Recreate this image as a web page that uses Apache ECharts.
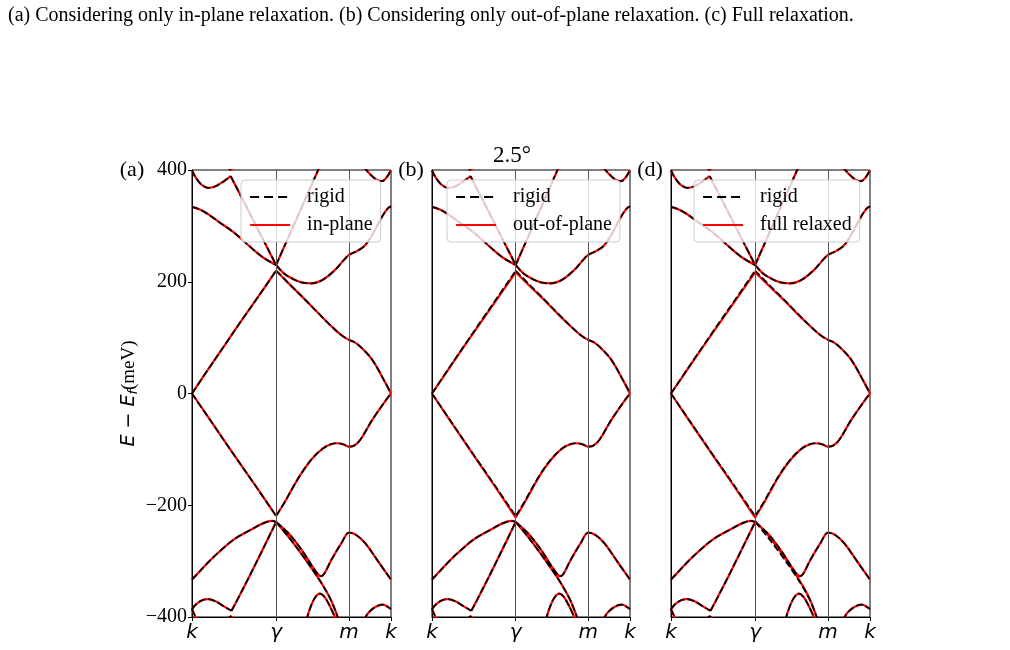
<!DOCTYPE html>
<html>
<head>
<meta charset="utf-8">
<script src="https://cdn.jsdelivr.net/npm/echarts@6/dist/echarts.min.js"></script>
<style>
  html, body { margin: 0; padding: 0; background: #fff; }
  #main { width: 1010px; height: 650px; }
</style>
</head>
<body>
<div id="main"></div>
<script>
// path k -> gamma -> m -> k, in units of |k gamma|
var kPath = [0, 1, 1.866, 2.366];
var kLabels = ['k', 'γ', 'm', 'k'];
var innerPoints = [1, 1.866];
var yTicks = [-400, -200, 0, 200, 400];
var twistAngle = '2.5°';
var panelTags = ['(a)', '(b)', '(d)'];
var relaxNames = ['in-plane', 'out-of-plane', 'full relaxed'];

//////////////// rigid bands (meV) ////////////////
var c1L = [[0,0],[0.2,45],[0.4,89],[0.6,133],[0.8,176],[1,220]];
var c1R = [[1,220],[1.17,194],[1.344,168],[1.5,144],[1.66,120],[1.78,104],[1.866,96],[1.93,92],[2.0,84],[2.14,61],[2.3,19],[2.366,0]];
var c2L = [[0,334],[0.1,329],[0.2,320],[0.31,308],[0.5,288],[0.71,260],[0.85,243],[1,230]];
var c2R = [[1,230],[1.1,214],[1.2,205],[1.3,199],[1.42,197],[1.55,203],[1.7,221],[1.8,238],[1.866,248],[1.95,254],[2.05,264],[2.15,286],[2.25,314],[2.32,330],[2.366,335]];
var c3Lk = [[0,400],[0.03,390],[0.07,381],[0.12,373],[0.19,368],[0.28,371],[0.38,380],[0.46,389]];
var c3Ls = [[0.46,389],[0.61,345],[0.8,289],[1,230]];
var c3R = [[1,230],[1.25,315],[1.5,400],[1.53,410]];
var cBump = [[0.41,410],[0.46,400],[0.51,410]];
var cKr = [[2.04,406],[2.12,392],[2.2,382],[2.26,380],[2.32,388],[2.366,400]];

var v1L = [[0,0],[0.25,-55],[0.5,-110],[0.75,-164],[1,-219]];
var v1R = [[1,-219],[1.1,-195],[1.2,-168],[1.3,-143],[1.42,-118],[1.55,-99],[1.65,-91],[1.72,-89],[1.8,-91],[1.866,-95],[1.93,-93],[2.0,-83],[2.14,-48],[2.3,-13],[2.366,0]];
var v2L = [[0,-333],[0.1,-317],[0.2,-301],[0.31,-285],[0.5,-261],[0.71,-243],[0.85,-232],[0.95,-228],[1,-230]];
var v2R = [[1,-230],[1.14,-249],[1.26,-271],[1.34,-288],[1.42,-307],[1.49,-322],[1.53,-327],[1.57,-323],[1.66,-297],[1.78,-267],[1.866,-249],[1.95,-253],[2.06,-268],[2.22,-302],[2.366,-333]];
var v3R = [[1,-230],[1.15,-257],[1.3,-287],[1.45,-319],[1.55,-342],[1.65,-369],[1.733,-400],[1.75,-406]];
var vDome = [[1.36,-406],[1.4,-386],[1.46,-366],[1.52,-358],[1.58,-365],[1.65,-384],[1.71,-404]];
var v5Lk = [[0,-386],[0.05,-377],[0.12,-370],[0.19,-368],[0.28,-372],[0.38,-381],[0.47,-389]];
var v5Ls = [[0.47,-389],[0.7,-322],[1,-230]];
var vK0 = [[0,-386],[0.06,-406]];
var vBump = [[0.42,-406],[0.46,-399],[0.5,-406]];
var vKr = [[2.04,-406],[2.1,-392],[2.18,-382],[2.27,-378],[2.33,-382],[2.366,-386]];

//////////////// relaxed bands that move a little ////////////////
var oopC1L = [[0,0],[0.2,44],[0.4,88],[0.6,131],[0.8,174],[1,217]];
var oopC1R = [[1,217],[1.17,192],[1.344,167],[1.5,143],[1.66,120],[1.78,104],[1.866,96],[1.93,92],[2.0,84],[2.14,61],[2.3,19],[2.366,0]];
var oopV1L = [[0,0],[0.25,-56],[0.5,-111],[0.75,-166],[1,-222]];
var oopV1R = [[1,-222],[1.1,-197],[1.2,-170],[1.3,-144],[1.42,-119],[1.55,-99],[1.65,-91],[1.72,-89],[1.8,-91],[1.866,-95],[1.93,-93],[2.0,-83],[2.14,-48],[2.3,-13],[2.366,0]];
var fullV3R = [[1,-228],[1.15,-253],[1.3,-283],[1.45,-316],[1.55,-340],[1.65,-368],[1.733,-400],[1.75,-406]];

var rigidBands = [c1L,c1R,c2L,c2R,c3Lk,c3Ls,c3R,cBump,cKr,v1L,v1R,v2L,v2R,v3R,vDome,v5Lk,v5Ls,vK0,vBump,vKr];
var inPlaneBands = rigidBands;
var outPlaneBands = [oopC1L,oopC1R,c2L,c2R,c3Lk,c3Ls,c3R,cBump,cKr,oopV1L,oopV1R,v2L,v2R,v3R,vDome,v5Lk,v5Ls,vK0,vBump,vKr];
var fullBands = [oopC1L,oopC1R,c2L,c2R,c3Lk,c3Ls,c3R,cBump,cKr,oopV1L,oopV1R,v2L,v2R,fullV3R,vDome,v5Lk,v5Ls,vK0,vBump,vKr];
var relaxedBands = [inPlaneBands, outPlaneBands, fullBands];

// join band segments into one line broken by gaps
function joinBands(bands){
    var out = [];
    for (var i = 0; i < bands.length; i++) {
        if (i > 0) out.push(['-', '-']);
        for (var j = 0; j < bands[i].length; j++) out.push(bands[i][j]);
    }
    return out;
}

var chart = echarts.init(document.getElementById('main'));
var serif = 'Liberation Serif';
var grids = [
    {left: 192, top: 170, width: 199, height: 447},
    {left: 432, top: 170, width: 198, height: 447},
    {left: 671, top: 170, width: 199, height: 447}
];
var legendLeft = [241, 447, 694];

var xAxes = [], yAxes = [], series = [], legends = [];
for (var p = 0; p < 3; p++) {
    grids[p].show = true;
    grids[p].borderColor = '#000';
    grids[p].borderWidth = 1;
    xAxes.push({
        type: 'value', gridIndex: p, min: 0, max: kPath[kPath.length - 1],
        axisLine: {onZero: false, lineStyle: {color: '#000', width: 1}},
        axisTick: {show: true, customValues: kPath, length: 4, lineStyle: {color: '#000'}},
        axisLabel: {
            customValues: kPath, color: '#000', fontSize: 20, fontStyle: 'italic',
            fontFamily: 'DejaVu Sans', margin: 6,
            formatter: function (v) {
                for (var i = 0; i < kPath.length; i++) if (Math.abs(kPath[i] - v) < 1e-6) return kLabels[i];
                return '';
            }
        },
        splitLine: {show: false}
    });
    yAxes.push({
        type: 'value', gridIndex: p, min: -400, max: 400, interval: 200,
        axisLine: {show: true, onZero: false, lineStyle: {color: '#000', width: 1}},
        axisTick: {show: p === 0, length: 4, lineStyle: {color: '#000'}},
        axisLabel: {
            show: p === 0, color: '#000', fontSize: 20, fontFamily: serif, margin: 5,
            formatter: function (v) { return String(v).replace('-', '\u2212'); }
        },
        splitLine: {show: false},
        name: p === 0 ? '{i|E} \u2212 {i|E}{s|f}{r|(meV)}' : '',
        nameLocation: 'middle', nameGap: 52, nameRotate: 90,
        nameTextStyle: {
            color: '#000', fontSize: 19, fontFamily: 'DejaVu Sans',
            rich: {
                i: {fontFamily: 'DejaVu Sans', fontStyle: 'italic', fontSize: 19, color: '#000'},
                s: {fontFamily: 'DejaVu Sans', fontStyle: 'italic', fontSize: 13, color: '#000', padding: [9, 0, 0, 0]},
                r: {fontFamily: serif, fontSize: 19, color: '#000'}
            }
        }
    });
    series.push({
        name: relaxNames[p], type: 'line', xAxisIndex: p, yAxisIndex: p,
        data: joinBands(relaxedBands[p]), smooth: 0.35, symbol: 'none', showSymbol: false,
        connectNulls: false, z: 3,
        lineStyle: {color: '#ff0000', width: 2.2},
        itemStyle: {color: '#ff0000'},
        markLine: {
            silent: true, symbol: 'none', label: {show: false},
            lineStyle: {color: '#555', width: 1, type: 'solid'},
            data: innerPoints.map(function (x) { return {xAxis: x}; })
        }
    });
    series.push({
        name: 'rigid', type: 'line', xAxisIndex: p, yAxisIndex: p,
        data: joinBands(rigidBands), smooth: 0.35, symbol: 'none', showSymbol: false,
        connectNulls: false, z: 4,
        lineStyle: {color: '#000', width: 1.7, type: [7, 3]},
        itemStyle: {color: '#000'}
    });
    legends.push({
        data: [
            {name: 'rigid', lineStyle: {type: [9, 5], width: 2.2, color: '#000'}},
            {name: relaxNames[p], lineStyle: {type: 'solid', width: 2.2, color: '#ff0000'}}
        ],
        orient: 'vertical',
        left: legendLeft[p], top: 180, padding: [7, 8, 7, 8], z: 10,
        itemWidth: 40, itemHeight: 14, itemGap: 8,
        itemStyle: {opacity: 0},
        backgroundColor: 'rgba(255,255,255,0.8)', borderColor: '#ccc',
        borderWidth: 1, borderRadius: 4, selectedMode: false,
        textStyle: {color: '#000', fontSize: 20, fontFamily: serif, padding: [0, 0, 0, 12]}
    });
}

var texts = [
    {type: 'text', left: 8, top: 6, style: {text: '(a) Considering only in-plane relaxation. (b) Considering only out-of-plane relaxation. (c) Full relaxation.', font: '20px "Liberation Serif"', fill: '#000'}},
    {type: 'text', x: 512, y: 156, style: {text: twistAngle, font: '23px "Liberation Serif"', fill: '#000', align: 'center', verticalAlign: 'middle'}},
    {type: 'text', x: 132, y: 170, style: {text: panelTags[0], font: '22px "Liberation Serif"', fill: '#000', align: 'center', verticalAlign: 'middle'}},
    {type: 'text', x: 411, y: 170, style: {text: panelTags[1], font: '22px "Liberation Serif"', fill: '#000', align: 'center', verticalAlign: 'middle'}},
    {type: 'text', x: 650, y: 170, style: {text: panelTags[2], font: '22px "Liberation Serif"', fill: '#000', align: 'center', verticalAlign: 'middle'}}
];

chart.setOption({
    animation: false,
    backgroundColor: '#fff',
    grid: grids,
    xAxis: xAxes,
    yAxis: yAxes,
    legend: legends,
    series: series,
    graphic: texts
});
</script>
</body>
</html>
